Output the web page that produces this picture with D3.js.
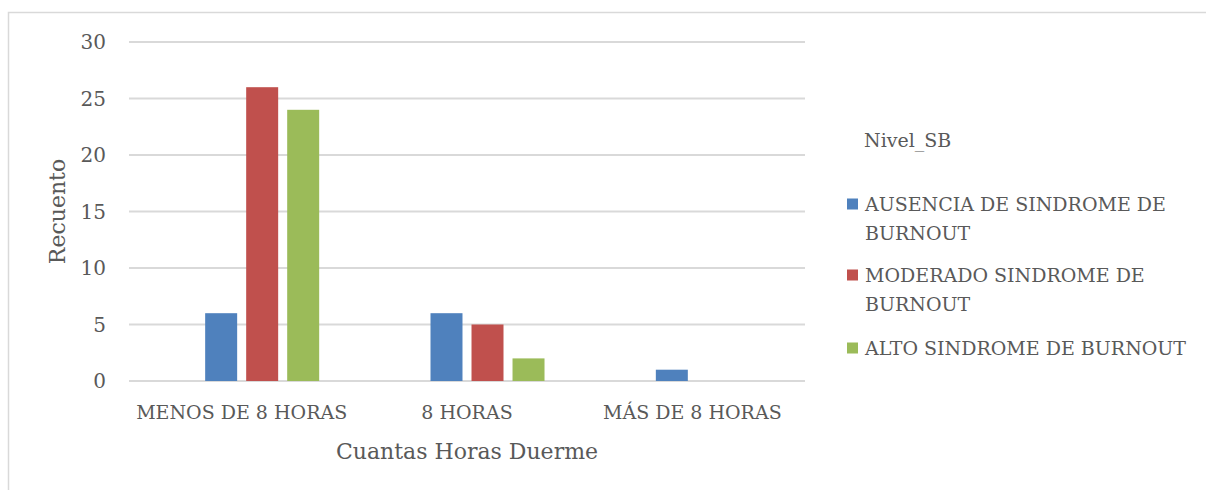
<!DOCTYPE html>
<html>
<head>
<meta charset="utf-8">
<script src="https://cdn.jsdelivr.net/npm/d3@7"></script>
<style>
  body { margin: 0; background: #fff; }
  text { font-family: "DejaVu Serif", "Liberation Serif", serif; fill: #595959; }
</style>
</head>
<body>
<svg id="chart" width="1206" height="490"></svg>
<script>
// data
var categories = ["MENOS DE 8 HORAS", "8 HORAS", "MÁS DE 8 HORAS"];
// first slot is an empty series (Excel leaves the space for it)
var seriesNames = ["", "AUSENCIA DE SINDROME DE BURNOUT", "MODERADO SINDROME DE BURNOUT", "ALTO SINDROME DE BURNOUT"];
var seriesColors = ["none", "#4F81BD", "#C0504D", "#9BBB59"];
var emptyValues = [0, 0, 0];
var ausenciaValues = [6, 6, 1];
var moderadoValues = [26, 5, 0];
var altoValues = [24, 2, 0];
var yTicks = [0, 5, 10, 15, 20, 25, 30];

var allValues = [emptyValues, ausenciaValues, moderadoValues, altoValues];

var dimensions = {
    width: 1206,
    height: 490,
    margin: { top: 42, bottom: 109, left: 129, right: 401 }
};

var svg = d3.select("#chart");

// outer chart border
svg.append("rect")
    .attr("x", 8.5).attr("y", 12.5)
    .attr("width", 1400).attr("height", 700)
    .attr("fill", "#fff")
    .attr("stroke", "#D9D9D9")
    .attr("stroke-width", 1.5);

var x0 = d3.scaleBand()
    .domain(categories)
    .range([dimensions.margin.left, dimensions.width - dimensions.margin.right])
    .paddingInner(0.312)
    .paddingOuter(0.156);

var x1 = d3.scaleBand()
    .domain(seriesNames)
    .range([0, x0.bandwidth()])
    .paddingInner(0.22);

var y = d3.scaleLinear()
    .domain([0, 30])
    .range([dimensions.height - dimensions.margin.bottom, dimensions.margin.top]);

// gridlines
svg.append("g").selectAll("line")
    .data(yTicks)
    .enter()
    .append("line")
    .attr("x1", dimensions.margin.left)
    .attr("x2", dimensions.width - dimensions.margin.right)
    .attr("y1", d => y(d))
    .attr("y2", d => y(d))
    .attr("stroke", "#D9D9D9")
    .attr("stroke-width", 2);

// y tick labels
svg.append("g").selectAll("text")
    .data(yTicks)
    .enter()
    .append("text")
    .attr("x", 106)
    .attr("y", d => y(d))
    .attr("dy", "0.35em")
    .attr("text-anchor", "end")
    .style("font-size", "20px")
    .text(d => d);

// bars
var rows = [];
seriesNames.forEach(function(s, i) {
    categories.forEach(function(c, j) {
        rows.push({ series: s, category: c, value: allValues[i][j], color: seriesColors[i] });
    });
});

svg.append("g").selectAll("rect")
    .data(rows.filter(d => d.color !== "none" && d.value > 0))
    .enter()
    .append("rect")
    .attr("x", d => x0(d.category) + x1(d.series))
    .attr("y", d => y(d.value))
    .attr("width", x1.bandwidth())
    .attr("height", d => y(0) - y(d.value))
    .attr("fill", d => d.color);

// category labels
svg.append("g").selectAll("text")
    .data(categories)
    .enter()
    .append("text")
    .attr("x", d => x0(d) + x0.bandwidth() / 2)
    .attr("y", 419)
    .attr("text-anchor", "middle")
    .style("font-size", "19px")
    .text(d => d);

// axis titles
svg.append("text")
    .attr("x", (dimensions.margin.left + dimensions.width - dimensions.margin.right) / 2)
    .attr("y", 459)
    .attr("text-anchor", "middle")
    .style("font-size", "22px")
    .text("Cuantas Horas Duerme");

svg.append("text")
    .attr("transform", "translate(65," + y(15) + ") rotate(-90)")
    .attr("text-anchor", "middle")
    .style("font-size", "22px")
    .text("Recuento");

// legend
var legend = svg.append("g");
legend.append("text")
    .attr("x", 864)
    .attr("y", 147)
    .style("font-size", "19px")
    .text("Nivel_SB");

var legendItems = [
    { lines: ["AUSENCIA DE SINDROME DE", "BURNOUT"], color: seriesColors[1], y: 204 },
    { lines: ["MODERADO SINDROME DE", "BURNOUT"], color: seriesColors[2], y: 275 },
    { lines: ["ALTO SINDROME DE BURNOUT"], color: seriesColors[3], y: 348 }
];

legendItems.forEach(function(item) {
    legend.append("rect")
        .attr("x", 847).attr("y", item.y - 5.5)
        .attr("width", 11).attr("height", 11)
        .attr("fill", item.color);
    item.lines.forEach(function(line, k) {
        legend.append("text")
            .attr("x", 865)
            .attr("y", item.y + k * 29)
            .attr("dy", "0.35em")
            .style("font-size", "19px")
            .text(line);
    });
});
</script>
</body>
</html>
